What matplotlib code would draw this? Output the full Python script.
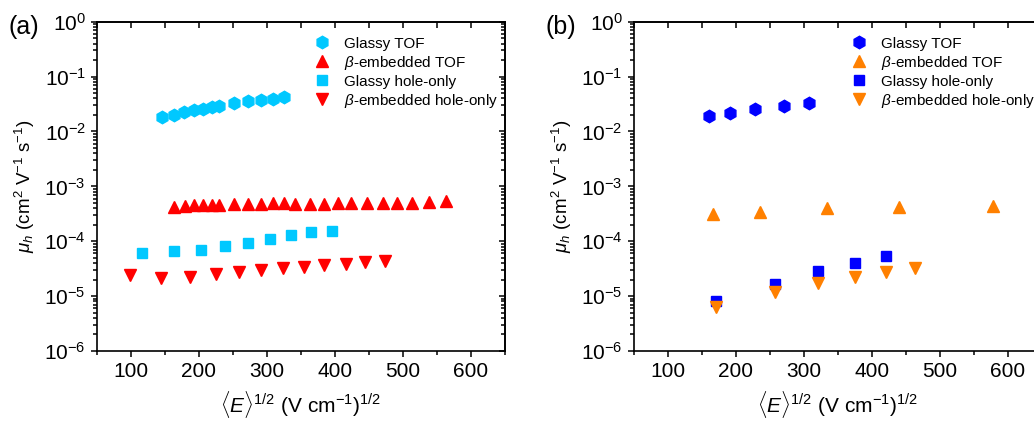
import matplotlib
matplotlib.use('Agg')
import matplotlib.pyplot as plt
from matplotlib.ticker import LogLocator, MultipleLocator, NullFormatter

plt.rcParams['font.family'] = ['Liberation Sans', 'DejaVu Sans']
plt.rcParams['mathtext.fontset'] = 'custom'
plt.rcParams['mathtext.rm'] = 'Liberation Sans'
plt.rcParams['mathtext.it'] = 'Liberation Sans:italic'
plt.rcParams['mathtext.bf'] = 'Liberation Sans:bold'

# ---- panel (a) data ----
a_glassy_tof_x = [145.6, 162.7, 178.4, 193.1, 206.3, 219.1, 229.9, 251.9, 272.0, 291.2, 308.2, 324.4]
a_glassy_tof_y = [0.0181, 0.0200, 0.0223, 0.0243, 0.0260, 0.0276, 0.0288, 0.0330, 0.0355, 0.0379, 0.0396, 0.0420]

a_beta_tof_x = [162.7, 178.9, 193.1, 206.3, 219.1, 229.9, 251.9, 272.0, 291.2, 308.2, 324.4,
                341.6, 362.6, 383.8, 404.4, 423.0, 447.1, 470.6, 491.6, 513.2, 538.7, 562.7]
a_beta_tof_y = [4.27e-4, 4.39e-4, 4.58e-4, 4.65e-4, 4.65e-4, 4.52e-4, 4.85e-4, 4.85e-4, 4.78e-4, 4.92e-4, 4.92e-4,
                4.85e-4, 4.85e-4, 4.85e-4, 4.92e-4, 4.92e-4, 5.06e-4, 5.06e-4, 5.06e-4, 5.06e-4, 5.2e-4, 5.35e-4]

a_glassy_hole_x = [116.6, 162.7, 202.4, 237.6, 271.6, 303.9, 334.8, 365.3, 396.0]
a_glassy_hole_y = [6.04e-5, 6.58e-5, 7.05e-5, 8.1e-5, 9.3e-5, 1.10e-4, 1.30e-4, 1.46e-4, 1.54e-4]

a_beta_hole_x = [99.0, 144.6, 187.2, 225.0, 258.4, 291.2, 323.5, 353.8, 384.3, 415.7, 444.1, 474.0]
a_beta_hole_y = [2.43e-5, 2.11e-5, 2.27e-5, 2.5e-5, 2.72e-5, 3.0e-5, 3.26e-5, 3.45e-5, 3.7e-5, 3.9e-5, 4.14e-5, 4.32e-5]

# ---- panel (b) data ----
b_glassy_tof_x = [160.5, 191.0, 227.9, 270.3, 307.2]
b_glassy_tof_y = [0.0189, 0.0214, 0.0257, 0.0291, 0.0326]

b_beta_tof_x = [165.9, 235.3, 333.4, 440.6, 577.5]
b_beta_tof_y = [3.1e-4, 3.46e-4, 3.98e-4, 4.16e-4, 4.45e-4]

b_glassy_hole_x = [170.9, 257.0, 321.0, 374.7, 421.0]
b_glassy_hole_y = [8.0e-6, 1.67e-5, 2.84e-5, 4.03e-5, 5.32e-5]

b_beta_hole_x = [170.9, 257.0, 321.0, 374.7, 421.0, 463.4]
b_beta_hole_y = [6.4e-6, 1.18e-5, 1.72e-5, 2.24e-5, 2.76e-5, 3.22e-5]

labels = ['Glassy TOF', r'$\beta$-embedded TOF', 'Glassy hole-only', r'$\beta$-embedded hole-only']

CYAN = '#00C8FF'
RED = '#FF0000'
BLUE = '#0000FF'
ORANGE = '#FF8000'


def style_axes(ax):
    ax.set_yscale('log')
    ax.set_xlim(50, 650)
    ax.set_ylim(1e-6, 1)
    ax.xaxis.set_major_locator(MultipleLocator(100))
    ax.xaxis.set_minor_locator(MultipleLocator(50))
    ax.yaxis.set_major_locator(LogLocator(base=10, numticks=10))
    ax.yaxis.set_minor_locator(LogLocator(base=10, subs=range(2, 10), numticks=20))
    ax.yaxis.set_minor_formatter(NullFormatter())
    ax.tick_params(which='both', direction='out', labelsize=15, width=1.1)
    ax.tick_params(which='major', length=4.5)
    ax.tick_params(which='minor', length=3)
    ax.xaxis.set_minor_formatter(NullFormatter())
    for s in ax.spines.values():
        s.set_linewidth(1.2)

    # top / right ticks point inwards
    top = ax.secondary_xaxis('top')
    top.xaxis.set_major_locator(MultipleLocator(100))
    top.xaxis.set_minor_locator(MultipleLocator(50))
    top.tick_params(which='both', direction='in', labeltop=False, width=1.1)
    top.tick_params(which='major', length=4.5)
    top.tick_params(which='minor', length=4.5)
    top.spines['top'].set_linewidth(1.2)
    right = ax.secondary_yaxis('right')
    right.yaxis.set_major_locator(LogLocator(base=10, numticks=10))
    right.yaxis.set_minor_locator(LogLocator(base=10, subs=range(2, 10), numticks=20))
    right.tick_params(which='both', direction='in', labelright=False, width=1.1)
    right.tick_params(which='major', length=4.5)
    right.tick_params(which='minor', length=3)
    right.spines['right'].set_linewidth(1.2)

    ax.set_xlabel(r'$\langle E\rangle^{1/2}$ (V cm$^{-1}$)$^{1/2}$', fontsize=15, labelpad=6)
    ax.set_ylabel(r'$\mu_h$ (cm$^2$ V$^{-1}$ s$^{-1}$)', fontsize=13.5, labelpad=5)


def draw_panel(ax, d, c_glassy, c_beta):
    ax.plot(d[0], d[1], 'h', color=c_glassy, ms=9, ls='none', label=labels[0])
    ax.plot(d[2], d[3], '^', color=c_beta, ms=8.5, ls='none', label=labels[1])
    ax.plot(d[4], d[5], 's', color=c_glassy, ms=6.5, ls='none', label=labels[2])
    ax.plot(d[6], d[7], 'v', color=c_beta, ms=8.5, ls='none', label=labels[3])
    style_axes(ax)
    ax.legend(loc='upper left', bbox_to_anchor=(0.533, 0.955), frameon=False, fontsize=11,
              handlelength=1.0, handletextpad=0.95, labelspacing=0.2, borderpad=0, borderaxespad=0)


fig = plt.figure(figsize=(10.34, 4.23), dpi=100)
ax_a = fig.add_axes([0.0938, 0.1702, 0.3946, 0.7785])
ax_b = fig.add_axes([0.6130, 0.1702, 0.3946, 0.7785])

draw_panel(ax_a, [a_glassy_tof_x, a_glassy_tof_y, a_beta_tof_x, a_beta_tof_y,
                  a_glassy_hole_x, a_glassy_hole_y, a_beta_hole_x, a_beta_hole_y], CYAN, RED)
draw_panel(ax_b, [b_glassy_tof_x, b_glassy_tof_y, b_beta_tof_x, b_beta_tof_y,
                  b_glassy_hole_x, b_glassy_hole_y, b_beta_hole_x, b_beta_hole_y], BLUE, ORANGE)

fig.text(0.023, 0.935, '(a)', fontsize=18, ha='center', va='center')
fig.text(0.542, 0.935, '(b)', fontsize=18, ha='center', va='center')

fig.savefig('out.png', dpi=100)
